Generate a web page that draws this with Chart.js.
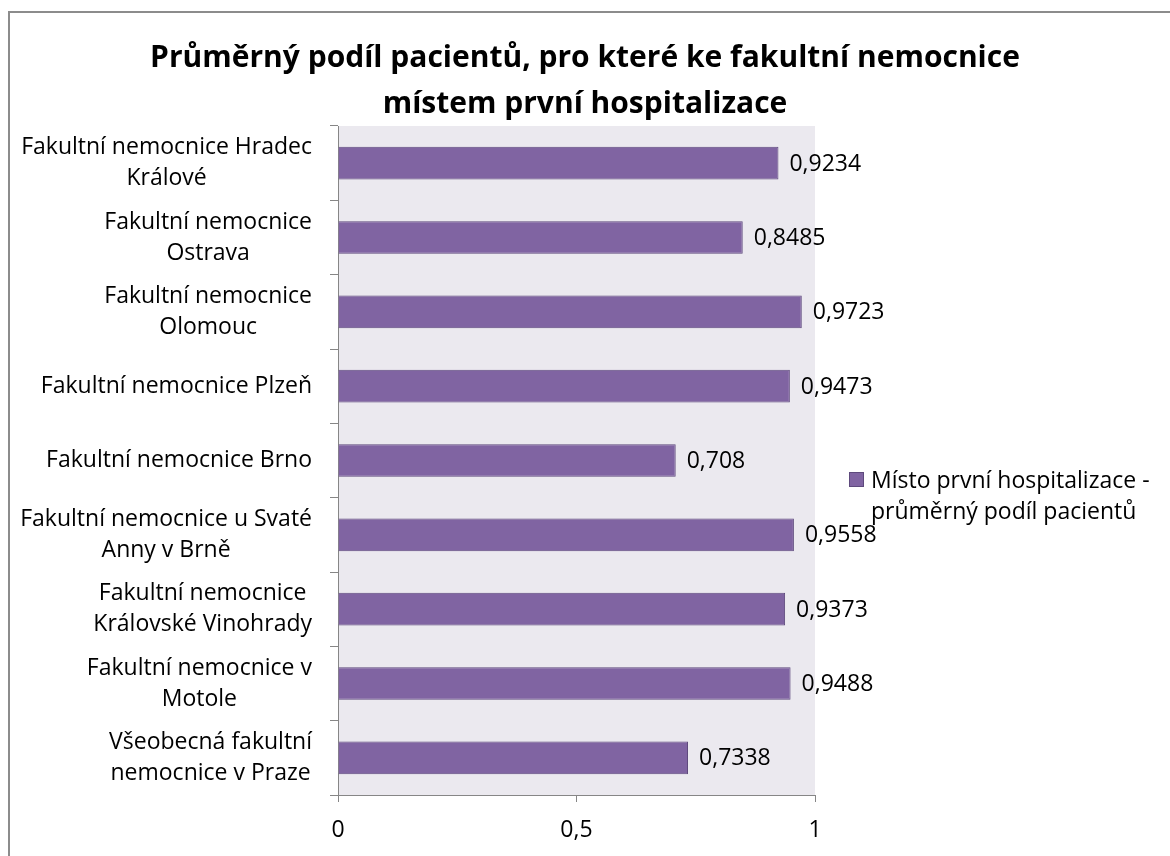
<!DOCTYPE html>
<html>
<head>
<meta charset="utf-8">
<title>Průměrný podíl pacientů</title>
<script src="https://cdn.jsdelivr.net/npm/chart.js@4/dist/chart.umd.min.js"></script>
<style>
  html, body { margin: 0; padding: 0; background: #fff; }
  #wrap { width: 1170px; height: 856px; }
</style>
</head>
<body>
<div id="wrap"><canvas id="chart" width="1170" height="856"></canvas></div>
<script>
// --- data ---
const titleLines = [
    'Průměrný podíl pacientů, pro které ke fakultní nemocnice',
    'místem první hospitalizace'
];
const categories = [
    ['Fakultní nemocnice Hradec', 'Králové'],
    ['Fakultní nemocnice', 'Ostrava'],
    ['Fakultní nemocnice', 'Olomouc'],
    ['Fakultní nemocnice Plzeň'],
    ['Fakultní nemocnice Brno'],
    ['Fakultní nemocnice u Svaté', 'Anny v Brně'],
    ['Fakultní nemocnice ', 'Královské Vinohrady'],
    ['Fakultní nemocnice v', 'Motole'],
    ['Všeobecná fakultní', 'nemocnice v Praze']
];
const values = [0.9234, 0.8485, 0.9723, 0.9473, 0.708, 0.9558, 0.9373, 0.9488, 0.7338];
const xTicks = [0, 0.5, 1];
const seriesName = ['Místo první hospitalizace -', 'průměrný podíl pacientů'];

const FONT = '"Open Sans", "DejaVu Sans", sans-serif';
const barColor = '#8064a2';
const barEdge = '#5e4a7d';
const axisColor = '#868686';

const czNum = v => String(v).replace('.', ',');

// background, plot fill and the outer frame
const backdrop = {
    id: 'backdrop',
    beforeDraw(chart) {
        const { ctx, chartArea: a } = chart;
        ctx.save();
        ctx.fillStyle = '#fff';
        ctx.fillRect(0, 0, chart.width, chart.height);
        ctx.fillStyle = '#ebe9ef';
        ctx.fillRect(a.left, a.top, a.right - a.left, a.bottom - a.top);
        ctx.strokeStyle = '#8c8c8c';
        ctx.lineWidth = 2;
        ctx.beginPath();
        ctx.moveTo(9, chart.height);
        ctx.lineTo(9, 12);
        ctx.lineTo(chart.width, 12);
        ctx.stroke();
        ctx.restore();
    }
};

const titleText = {
    id: 'titleText',
    afterDraw(chart) {
        const ctx = chart.ctx;
        ctx.save();
        ctx.fillStyle = '#000';
        ctx.font = 'bold 30px ' + FONT;
        ctx.textAlign = 'center';
        ctx.textBaseline = 'alphabetic';
        ctx.fillText(titleLines[0], 585, 67);
        ctx.fillText(titleLines[1], 585, 113);
        ctx.restore();
    }
};

// category labels: lines centred on each other, block right-aligned to the axis
const catLabels = {
    id: 'catLabels',
    afterDraw(chart) {
        const ctx = chart.ctx;
        const y = chart.scales.y;
        const right = y.right - 26;
        ctx.save();
        ctx.fillStyle = '#000';
        ctx.font = '23px ' + FONT;
        ctx.textAlign = 'center';
        ctx.textBaseline = 'middle';
        categories.forEach((lines, i) => {
            const w = Math.max(...lines.map(l => ctx.measureText(l.trimEnd()).width));
            const cx = right - w / 2;
            const cy = y.getPixelForValue(i);
            lines.forEach((l, j) => {
                ctx.fillText(l.trimEnd(), cx, cy + (j - (lines.length - 1) / 2) * 31);
            });
        });
        ctx.restore();
    }
};

const valueLabels = {
    id: 'valueLabels',
    afterDatasetsDraw(chart) {
        const ctx = chart.ctx;
        const meta = chart.getDatasetMeta(0);
        ctx.save();
        ctx.fillStyle = '#000';
        ctx.font = '23px ' + FONT;
        ctx.textAlign = 'left';
        ctx.textBaseline = 'middle';
        meta.data.forEach((bar, i) => {
            ctx.fillText(czNum(values[i]), bar.x + 11, bar.y + 1);
        });
        ctx.restore();
    }
};

const sideLegend = {
    id: 'sideLegend',
    afterDraw(chart) {
        const ctx = chart.ctx;
        ctx.save();
        ctx.fillStyle = barColor;
        ctx.fillRect(849, 472, 15, 15);
        ctx.strokeStyle = barEdge;
        ctx.lineWidth = 1;
        ctx.strokeRect(849.5, 472.5, 14, 14);
        ctx.fillStyle = '#000';
        ctx.font = '23px ' + FONT;
        ctx.textAlign = 'left';
        ctx.textBaseline = 'middle';
        ctx.fillText(seriesName[0], 871, 481);
        ctx.fillText(seriesName[1], 871, 512);
        ctx.restore();
    }
};

new Chart(document.getElementById('chart'), {
    type: 'bar',
    data: {
        labels: categories,
        datasets: [{
            label: seriesName.join(' '),
            data: values,
            backgroundColor: barColor,
            borderColor: barEdge,
            borderWidth: 1,
            barPercentage: 0.44,
            categoryPercentage: 1
        }]
    },
    options: {
        indexAxis: 'y',
        responsive: false,
        animation: false,
        devicePixelRatio: 1,
        layout: { padding: { left: 0, top: 126, right: 355, bottom: 0 } },
        plugins: {
            legend: { display: false },
            title: { display: false },
            tooltip: { enabled: false }
        },
        scales: {
            x: {
                min: 0,
                max: 1,
                afterBuildTicks: s => { s.ticks = xTicks.map(v => ({ value: v })); },
                afterFit: s => { s.height = 61; },
                grid: { drawOnChartArea: false, color: axisColor, tickLength: 7 },
                border: { color: axisColor, width: 1 },
                ticks: {
                    color: '#000',
                    padding: 15,
                    font: { family: FONT, size: 23 },
                    callback: v => czNum(v)
                }
            },
            y: {
                afterFit: s => { s.width = 338; },
                grid: { drawOnChartArea: false, color: axisColor, tickLength: 8, offset: true },
                border: { color: axisColor, width: 1 },
                ticks: { display: false }
            }
        }
    },
    plugins: [backdrop, titleText, catLabels, valueLabels, sideLegend]
});
</script>
</body>
</html>
